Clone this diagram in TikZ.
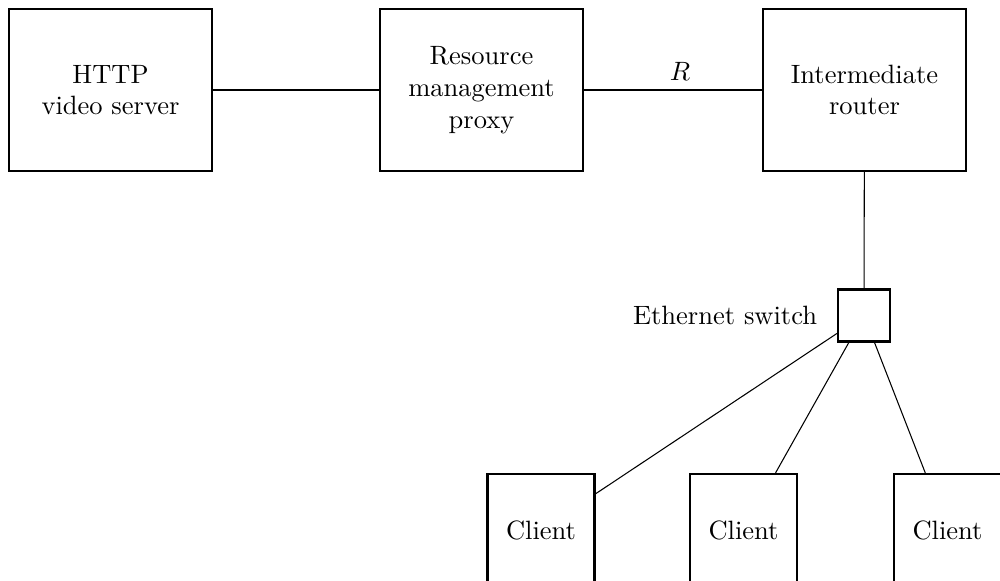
\documentclass[tikz,border=0pt]{standalone}
\begin{document}
\begin{tikzpicture}[x=0.3774pt,y=-0.3774pt,
  bigbox/.style={draw,line width=0.8pt,minimum width=76.6pt,minimum height=61.1pt,align=center,inner sep=0pt},
  swbox/.style={draw,line width=0.8pt,minimum width=19.6pt,minimum height=19.6pt,inner sep=0pt},
  clientbox/.style={draw,line width=0.8pt,minimum width=40.4pt,minimum height=42.3pt,inner sep=0pt},
  link/.style={line width=0.4pt}]
\useasboundingbox (0,0) rectangle (1000,581);
\node[bigbox] (srv) at (110.5,90) {HTTP\\video server};
\node[bigbox] (proxy) at (481.5,90) {Resource\\management\\proxy};
\node[bigbox] (router) at (864.5,90) {Intermediate\\router};
\node[swbox] (sw) at (864,315.5) {};
\node[left=4pt] (swlabel) at (sw.west) {Ethernet switch};
\node[clientbox] (c1) at (541,530) {Client};
\node[clientbox] (c2) at (743.5,530) {Client};
\node[clientbox] (c3) at (947.5,530) {Client};
\draw[link] (srv) -- (proxy);
\draw[link] (proxy) -- node[pos=0.54,above] (rlabel) {$R$} (router);
\draw[link] (router) -- (sw);
\draw[link] (sw) -- (c1);
\draw[link] (sw) -- (c2);
\draw[link] (sw) -- (c3);
\end{tikzpicture}
\end{document}
